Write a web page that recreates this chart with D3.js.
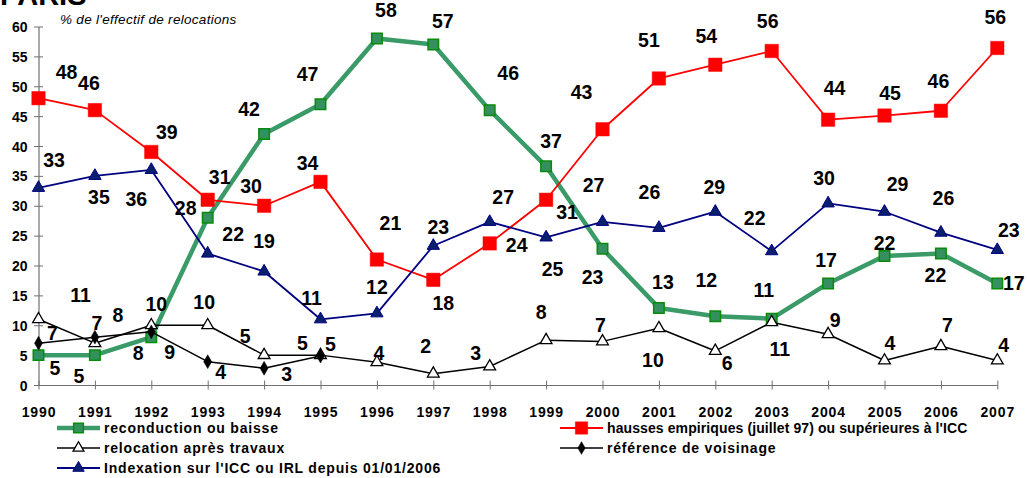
<!DOCTYPE html>
<html>
<head>
<meta charset="utf-8">
<script src="https://cdn.jsdelivr.net/npm/d3@7"></script>
<style>
  html, body { margin: 0; padding: 0; background: #fff; }
  svg { display: block; font-family: "Liberation Sans", Arial, sans-serif; }
</style>
</head>
<body>
<svg id="chart" width="1027" height="478"></svg>
<script>
// Years on the horizontal axis
const years = [1990, 1991, 1992, 1993, 1994, 1995, 1996, 1997, 1998, 1999,
               2000, 2001, 2002, 2003, 2004, 2005, 2006, 2007];

// Share of relocations (%) by type of rent setting
const reconduction = [5, 5, 8, 28, 42, 47, 58, 57, 46, 36.6, 22.8, 12.9, 11.5, 11.1, 17, 21.6, 22, 17];
const hausses      = [48, 46, 39, 31, 30, 34, 21, 17.6, 23.7, 31, 42.8, 51.3, 53.6, 55.9, 44.4, 45.1, 45.9, 56.4];
const travaux      = [11, 7, 10, 10, 5, 5, 3.8, 1.9, 3.1, 7.5, 7.3, 9.5, 5.7, 10.5, 8.5, 4.1, 6.5, 4.1];
const voisinage    = [7, 8, 8.9, 3.9, 2.8, 4.85];
const indexation   = [33, 35, 36, 22, 19, 11, 12, 23.3, 27.3, 24.7, 27.3, 26.3, 29, 22.4, 30.4, 29, 25.5, 22.6];

const yTicks = [0, 5, 10, 15, 20, 25, 30, 35, 40, 45, 50, 55, 60];

const legendNames = [
  "reconduction ou baisse",
  "hausses empiriques (juillet 97) ou supérieures à l'ICC",
  "relocation après travaux",
  "référence de voisinage",
  "Indexation sur l'ICC ou IRL depuis 01/01/2006"
];

// Hand-placed value label offsets (px, relative to each point)
const reconductionLabelPos = [[16.5,13],[-16,21],[-13,16],[-22,-10],[-15,-25],[-13,-30],[9,-28],[9.5,-23],[18.5,-37],[5,-25],
  [-10,28],[4,-26],[-9,-36],[-8,-29],[-2,-23],[0,-13],[-5.5,21],[16.5,0]];
const haussesLabelPos = [[28,-26],[-6,-27],[15.5,-20],[12,-22.5],[-13,-20],[-13,-19],[13.5,-37],[10,23.5],[27,1.5],[21,12.5],
  [-21,-37.5],[-10,-38.5],[-9,-29],[-4,-30],[6.5,-32],[5.5,-23],[-2.5,-30],[-2,-31]];
const travauxLabelPos = [[42,-24],[2,-20],[5,-21],[-3.5,-23],[-19,-19.5],[-18,-12.5],[2,-9],[-7.5,-28],[-14,-13],[-5,-28],
  [-2,-16.5],[-6,32],[12,12.5],[8,27],[7,-14],[5.5,-17.5],[6.5,-21],[6.5,-15.5]];
const voisinageLabelPos = [[14,-10],[23,-22],[18.5,20.5],[13,10.5],[22.5,6],[10,-12.5]];
const indexationLabelPos = [[15.5,-28],[4,21.5],[-15,29],[25.5,-20],[0,-30],[-9,-21],[0,-26.5],[5,-19],[13.5,-24.5],[6.5,31.5],
  [-9,-37],[-9.5,-35.5],[-1,-25],[-17,-33],[-4,-25.5],[13,-27.5],[2.5,-35],[11.5,-19.5]];

const svg = d3.select("#chart");

const x = d3.scaleLinear().domain([1990, 2007]).range([38.5, 997.3]);
const y = d3.scaleLinear().domain([0, 60]).range([385, 26.5]);

// Title (partly outside the top edge) and unit note
svg.append("text").attr("x", 0).attr("y", 5)
  .attr("font-size", 29).attr("font-weight", "bold").attr("fill", "#000").text("PARIS");
svg.append("text").attr("x", 60).attr("y", 23.5)
  .attr("font-size", 13.5).attr("font-style", "italic").attr("letter-spacing", 0.3)
  .attr("fill", "#000").text("% de l'effectif de relocations");

// Axes
const axisColor = "#707070";
const yAxis = svg.append("g").attr("transform", `translate(${x(1990)},0)`)
  .call(d3.axisLeft(y).tickValues(yTicks).tickSize(4.5).tickSizeOuter(0).tickFormat(d3.format("d")));
yAxis.select(".domain").attr("stroke", axisColor).attr("stroke-width", 1.2);
yAxis.selectAll(".tick line").attr("x1", 4.5).attr("stroke", axisColor);
yAxis.selectAll(".tick text").attr("x", -11).attr("dy", "0.36em")
  .attr("font-size", 14).attr("font-weight", "bold").attr("fill", "#000")
  .attr("font-family", "'Liberation Sans', Arial, sans-serif");

const xAxis = svg.append("g").attr("transform", `translate(0,${y(0)})`)
  .call(d3.axisBottom(x).tickValues(years).tickSize(4.5).tickSizeOuter(0).tickFormat(d3.format("d")));
xAxis.select(".domain").attr("stroke", axisColor).attr("stroke-width", 1.2);
xAxis.selectAll(".tick line").attr("y1", -4.5).attr("stroke", axisColor);
xAxis.selectAll(".tick text").attr("y", 31.5).attr("dy", 0)
  .attr("font-size", 14).attr("font-weight", "bold").attr("letter-spacing", 0.9).attr("fill", "#000")
  .attr("font-family", "'Liberation Sans', Arial, sans-serif");

// Series definitions: values + drawing style
const series = [
  { values: reconduction, labels: reconductionLabelPos, line: "#3a9a68", width: 4.5,
    symbol: d3.symbolSquare, size: 110, fill: "#35905f", stroke: "#0a8a0a", sw: 1.5 },
  { values: hausses, labels: haussesLabelPos, line: "#ff0000", width: 1.8,
    symbol: d3.symbolSquare, size: 180, fill: "#ff0000", stroke: "#ff0000", sw: 0.5 },
  { values: travaux, labels: travauxLabelPos, line: "#000000", width: 1.5,
    symbol: d3.symbolTriangle, size: 60, fill: "#ffffff", stroke: "#000000", sw: 1.3 },
  { values: voisinage, labels: voisinageLabelPos, line: "#000000", width: 1.5,
    symbol: d3.symbolDiamond, size: 55, fill: "#000000", stroke: "#000000", sw: 0.5 },
  { values: indexation, labels: indexationLabelPos, line: "#000080", width: 1.8,
    symbol: d3.symbolTriangle, size: 66, fill: "#0a1f6e", stroke: "#000080", sw: 1 }
];

const line = d3.line().x((d, i) => x(years[i])).y(d => y(d));

series.forEach(s => {
  const g = svg.append("g");
  g.append("path").datum(s.values)
    .attr("d", line).attr("fill", "none")
    .attr("stroke", s.line).attr("stroke-width", s.width).attr("stroke-linejoin", "round");
  g.selectAll("path.mark").data(s.values).join("path").attr("class", "mark")
    .attr("transform", (d, i) => `translate(${x(years[i])},${y(d)})`)
    .attr("d", d3.symbol().type(s.symbol).size(s.size))
    .attr("fill", s.fill).attr("stroke", s.stroke).attr("stroke-width", s.sw);
});

// Value labels
series.forEach(s => {
  svg.append("g").selectAll("text").data(s.values).join("text")
    .attr("x", (d, i) => x(years[i]) + s.labels[i][0])
    .attr("y", (d, i) => y(d) + s.labels[i][1])
    .attr("text-anchor", "middle").attr("dy", "0.36em")
    .attr("font-size", 19.5).attr("font-weight", "bold").attr("fill", "#000")
    .text(d => Math.round(d));
});

// Legend
const legendSlots = [
  { x: 57, y: 428, spacing: 0.8 }, { x: 560, y: 428, spacing: 0.1 },
  { x: 57, y: 448, spacing: 0.8 }, { x: 560, y: 448, spacing: 0.8 },
  { x: 57, y: 468, spacing: 0.8 }
];
series.forEach((s, i) => {
  const p = legendSlots[i];
  const g = svg.append("g").attr("transform", `translate(${p.x},${p.y})`);
  g.append("line").attr("x1", 0).attr("x2", 43).attr("y1", 0).attr("y2", 0)
    .attr("stroke", s.line).attr("stroke-width", s.width);
  g.append("path").attr("transform", "translate(21.5,0)")
    .attr("d", d3.symbol().type(s.symbol).size(s.size * 0.85))
    .attr("fill", s.fill).attr("stroke", s.stroke).attr("stroke-width", s.sw);
  g.append("text").attr("x", 47).attr("y", 5)
    .attr("font-size", 14).attr("font-weight", "bold").attr("letter-spacing", p.spacing).attr("fill", "#000")
    .text(legendNames[i]);
});
</script>
</body>
</html>
